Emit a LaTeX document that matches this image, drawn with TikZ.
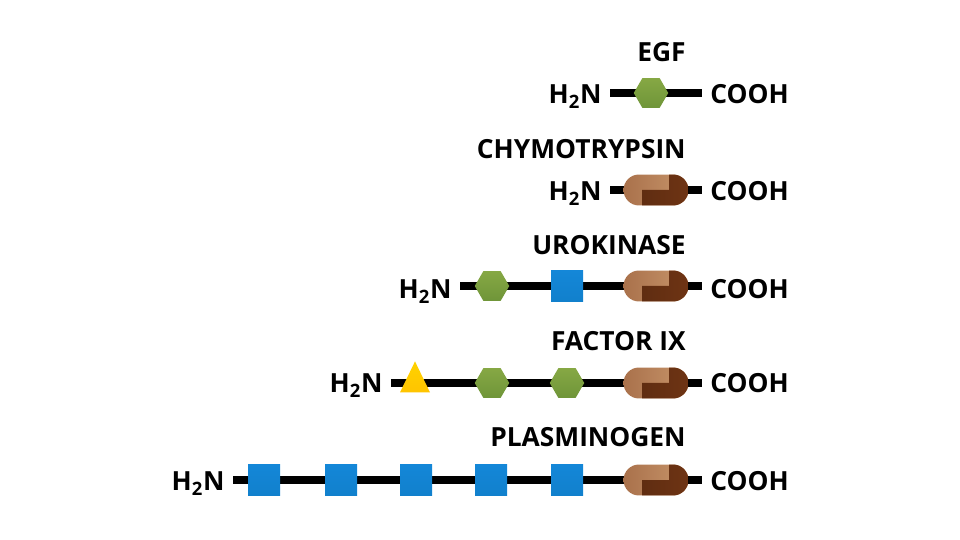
\documentclass[tikz,border=0pt]{standalone}
\usepackage{fontspec}
\setmainfont{Open Sans}
\usepackage{tikz}
\usetikzlibrary{shapes.geometric,shapes.misc,backgrounds}
\definecolor{hexgreen}{HTML}{86A844}
\definecolor{hexdark}{HTML}{6F9539}
\definecolor{sqblue}{HTML}{1487D8}
\definecolor{sqdark}{HTML}{1180CC}
\definecolor{triyellow}{HTML}{FFD200}
\definecolor{triorange}{HTML}{FFC400}
\definecolor{pilllight}{HTML}{C8956B}
\definecolor{pillmid}{HTML}{A9714B}
\definecolor{pilldark}{HTML}{5A2A10}
\definecolor{pillmaroon}{HTML}{6E3414}

\begin{document}
\begin{tikzpicture}[
  x=0.02cm, y=-0.02cm,
  font=\fontsize{15}{17}\selectfont\bfseries,
  lbl/.style={inner ysep=0pt, inner xsep=0.16cm, text height=0.46cm, text depth=0.1cm},
  nterm/.style={lbl, anchor=east},
  cterm/.style={lbl, anchor=west},
  hdr/.style={inner sep=0pt, text height=0.46cm, text depth=0.1cm, anchor=east},
  chain/.style={line width=0.16cm, black},
  hexdom/.style={regular polygon, regular polygon sides=6, minimum size=0.69cm, inner sep=0pt,
    top color=hexgreen, bottom color=hexdark},
  sqdom/.style={rectangle, minimum size=0.64cm, inner sep=0pt,
    top color=sqblue, bottom color=sqdark},
  tridom/.style={isosceles triangle, isosceles triangle stretches, shape border rotate=90,
    minimum width=0.6cm, minimum height=0.62cm, inner sep=0pt,
    top color=triyellow, bottom color=triorange},
  pilldom/.style={rounded rectangle, minimum width=1.3cm, minimum height=0.62cm, inner sep=0pt,
    left color=pillmid, right color=pilllight,
    path picture={
      \shade[left color=pilldark, right color=pillmaroon]
        ([xshift=-0.28cm]path picture bounding box.south) --
        ([xshift=-0.28cm]path picture bounding box.center) --
        ([xshift=0.26cm]path picture bounding box.center) --
        ([xshift=0.26cm]path picture bounding box.north) --
        (path picture bounding box.north east) --
        (path picture bounding box.south east) -- cycle;
    }}
]
\useasboundingbox (0,0) rectangle (960,540);

% EGF
\node[hdr] (egfname) at (686,53) {EGF};
\node[nterm] (egfn) at (610,95) {H\textsubscript{2}N};
\node[cterm] (egfc) at (702,95) {COOH};
\node[hexdom] (egfhex) at (651,93) {};

% Chymotrypsin
\node[hdr] (chyname) at (686,150) {CHYMOTRYPSIN};
\node[nterm] (chyn) at (610,192) {H\textsubscript{2}N};
\node[cterm] (chyc) at (702,192) {COOH};
\node[pilldom] (chypill) at (656,190) {};

% Urokinase
\node[hdr] (uroname) at (686,246) {UROKINASE};
\node[nterm] (uron) at (460,290) {H\textsubscript{2}N};
\node[cterm] (uroc) at (702,290) {COOH};
\node[hexdom] (urohex) at (492,286) {};
\node[sqdom] (urosq) at (567,286) {};
\node[pilldom] (uropill) at (656,286) {};

% Factor IX
\node[hdr] (facname) at (686,342) {FACTOR IX};
\node[nterm] (facn) at (391,384) {H\textsubscript{2}N};
\node[cterm] (facc) at (702,384) {COOH};
\node[tridom] (factri) at (415,383) {};
\node[hexdom] (fachexa) at (492,383) {};
\node[hexdom] (fachexb) at (567,383) {};
\node[pilldom] (facpill) at (656,383) {};

% Plasminogen
\node[hdr] (planame) at (686,438) {PLASMINOGEN};
\node[nterm] (plan) at (233,482) {H\textsubscript{2}N};
\node[cterm] (plac) at (702,482) {COOH};
\node[sqdom] (plasqa) at (264,480) {};
\node[sqdom] (plasqb) at (341,480) {};
\node[sqdom] (plasqc) at (416,480) {};
\node[sqdom] (plasqd) at (491,480) {};
\node[sqdom] (plasqe) at (567,480) {};
\node[pilldom] (plapill) at (656,480) {};

% backbones sit behind the domains
\begin{scope}[on background layer]
\draw[chain] (egfn.east |- egfhex.center) -- (egfhex.center) -- (egfc.west |- egfhex.center);
\draw[chain] (chyn.east |- chypill.center) -- (chypill.center) -- (chyc.west |- chypill.center);
\draw[chain] (uron.east |- urohex.center) -- (urohex.center) -- (urosq.center) -- (uropill.center) -- (uroc.west |- uropill.center);
\draw[chain] (facn.east |- factri.center) -- (factri.center) -- (fachexa.center) -- (fachexb.center) -- (facpill.center) -- (facc.west |- facpill.center);
\draw[chain] (plan.east |- plasqa.center) -- (plasqa.center) -- (plasqb.center) -- (plasqc.center) -- (plasqd.center) -- (plasqe.center) -- (plapill.center) -- (plac.west |- plapill.center);
\end{scope}
\end{tikzpicture}
\end{document}
